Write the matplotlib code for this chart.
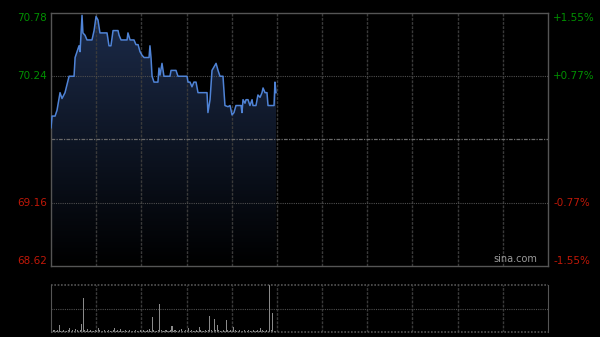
import numpy as np
import matplotlib
matplotlib.use("Agg")
import matplotlib.pyplot as plt
from matplotlib.colors import LinearSegmentedColormap

# ---- data ----
prev_close = 69.70
price_ticks = [70.78, 70.24, 69.16, 68.62]
pct_labels = ["+1.55%", "+0.77%", "-0.77%", "-1.55%"]

minutes = [0, 0.7, 2.7, 4, 6, 7.3, 9.3, 12, 15.3, 16, 17.3, 18.6, 19.3, 20.6, 21.2,
           22.6, 23.9, 27.2, 28.6, 29.9, 31.2, 32.5, 37.2, 38.5, 39.8, 41.2, 44.5,
           45.2, 46.5, 50.5, 51.1, 52.5, 55.1, 56.4, 57.8, 59.1, 60.4, 61.8, 65.1,
           65.7, 66.4, 67.1, 68.4, 71, 71.7, 72.4, 73.7, 75, 79, 79.7, 83, 84.3,
           90.3, 91, 92.3, 93.6, 94.9, 96.3, 97.6, 103.6, 104.2, 105.6, 106.9,
           109.6, 110.9, 112.2, 114.2, 115.5, 117.5, 118.9, 120.2, 121.5, 122.8,
           126.2, 126.8, 127.5, 128.8, 129.5, 130.8, 132.1, 133.5, 134.1, 136.1,
           137.4, 138.8, 140.1, 140.8, 142.1, 143.4, 144.1, 148.1, 148.7, 149.4]
prices = [69.80, 69.90, 69.90, 69.95, 70.10, 70.05, 70.10, 70.24, 70.24, 70.40,
          70.45, 70.50, 70.45, 70.76, 70.61, 70.59, 70.55, 70.55, 70.63, 70.75,
          70.72, 70.61, 70.61, 70.50, 70.50, 70.63, 70.63, 70.59, 70.55, 70.55,
          70.61, 70.55, 70.55, 70.51, 70.51, 70.45, 70.42, 70.40, 70.40, 70.50,
          70.40, 70.24, 70.19, 70.19, 70.31, 70.25, 70.35, 70.24, 70.24, 70.29,
          70.29, 70.24, 70.24, 70.19, 70.19, 70.15, 70.19, 70.19, 70.10, 70.10,
          69.93, 70.04, 70.29, 70.35, 70.29, 70.24, 70.24, 69.99, 69.98, 69.99,
          69.91, 69.93, 69.99, 69.99, 69.93, 70.04, 70.01, 70.04, 70.04, 69.99,
          70.04, 69.99, 69.99, 70.08, 70.06, 70.10, 70.14, 70.10, 70.10, 69.99,
          69.99, 70.19, 70.10]

vol_minutes = list(range(150))
volumes = [3, 2, 2, 1, 2, 7, 1, 1, 2, 1, 1, 2, 4, 1, 2, 1, 3, 2, 1, 2,
           8, 34, 2, 1, 3, 1, 2, 1, 1, 2, 1, 4, 2, 1, 1, 2, 1, 1, 2, 1,
           1, 2, 4, 1, 2, 1, 3, 1, 1, 2, 1, 1, 2, 1, 1, 1, 2, 1, 1, 2,
           1, 2, 1, 1, 2, 3, 1, 15, 2, 1, 1, 2, 28, 2, 1, 1, 2, 1, 1, 2,
           6, 1, 2, 1, 1, 2, 3, 1, 1, 2, 1, 4, 1, 2, 1, 1, 2, 1, 5, 2,
           1, 1, 2, 1, 2, 16, 2, 1, 13, 2, 7, 2, 1, 1, 2, 1, 12, 2, 1, 2,
           1, 5, 2, 1, 1, 2, 1, 1, 2, 1, 1, 2, 1, 1, 2, 1, 1, 2, 1, 4,
           2, 1, 1, 2, 1, 47, 2, 19, 1, 1]

# ---- figure ----
BG = "#000000"
GRID = "#3a3a3a"
fig = plt.figure(figsize=(6.0, 3.37), dpi=100, facecolor=BG)
ax = fig.add_axes([51/600, 1-266/337, 497/600, 253/337], facecolor=BG)
axv = fig.add_axes([51/600, 1-332/337, 497/600, 47/337], facecolor=BG)

ymin, ymax = 68.62, 70.78
ax.set_xlim(0, 330)
ax.set_ylim(ymin, ymax)

# gradient fill under line
cmap = LinearSegmentedColormap.from_list("g", [(0, 0, 0), (0.11, 0.17, 0.29)])
grad = np.linspace(0, 1, 256).reshape(-1, 1)
poly = ax.fill_between(minutes, prices, ymin, color="none", lw=0)
im = ax.imshow(grad, extent=[0, 330, ymin, ymax], origin="lower", aspect="auto",
               cmap=cmap, zorder=1)
path = poly.get_paths()[0]
im.set_clip_path(path, transform=ax.transData)

# grid
for m in range(30, 330, 30):
    ax.axvline(m, color=GRID, lw=1.0, ls=(0, (2, 1)), zorder=2)
    axv.axvline(m, color=GRID, lw=1.0, ls=(0, (2, 1)), zorder=0)
for p in [70.24, 69.16]:
    ax.axhline(p, color="#4e4e4e", lw=0.8, ls=(0, (1, 1)), zorder=2)
ax.axhline(prev_close, color="#6a6a6a", lw=0.9, ls=(0, (3, 1, 1, 1)), zorder=2)

ax.plot(minutes, prices, color="#4f83d6", lw=1.1, zorder=3)

for s in ax.spines.values():
    s.set_color("#555555")
    s.set_linewidth(1.0)
ax.set_xticks([])
ax.set_yticks([])

# labels
green = "#009000"
red = "#c01808"
fs = 7.5
x_left = -4/497
x_right = 1 + 5/497
ax.text(x_left, 70.78, "70.78", transform=ax.get_yaxis_transform(), ha="right",
        va="top", color=green, fontsize=fs)
ax.text(x_left, 70.24, "70.24", transform=ax.get_yaxis_transform(), ha="right",
        va="center", color=green, fontsize=fs)
ax.text(x_left, 69.16, "69.16", transform=ax.get_yaxis_transform(), ha="right",
        va="center", color=red, fontsize=fs)
ax.text(x_left, 68.62, "68.62", transform=ax.get_yaxis_transform(), ha="right",
        va="bottom", color=red, fontsize=fs)
vas = ["top", "center", "center", "bottom"]
cols = [green, green, red, red]
for p, lab, va, c in zip(price_ticks, pct_labels, vas, cols):
    ax.text(x_right, p, lab, transform=ax.get_yaxis_transform(), ha="left",
            va=va, color=c, fontsize=fs)
ax.text(0.978, 0.008, "sina.com", transform=ax.transAxes, ha="right", va="bottom",
        color="#9a9a9a", fontsize=7)

# volume
axv.set_xlim(0, 330)
axv.set_ylim(0, max(volumes))
axv.bar(vol_minutes, volumes, width=0.7, color="#8a8a8a", align="edge", zorder=2)
axv.axhline(max(volumes) / 2, color="#4e4e4e", lw=0.8, ls=(0, (1, 1)), zorder=1)
axv.spines["left"].set_color("#555555")
axv.spines["right"].set_color("#555555")
axv.spines["top"].set_visible(False)
axv.spines["bottom"].set_visible(False)
axv.axhline(max(volumes), color="#555555", lw=1.2, ls=(0, (1, 1)), clip_on=False)
axv.axhline(0, color="#555555", lw=1.2, ls=(0, (1, 1)), clip_on=False)
axv.set_xticks([])
axv.set_yticks([])

fig.savefig("out.png", dpi=100, facecolor=BG)
